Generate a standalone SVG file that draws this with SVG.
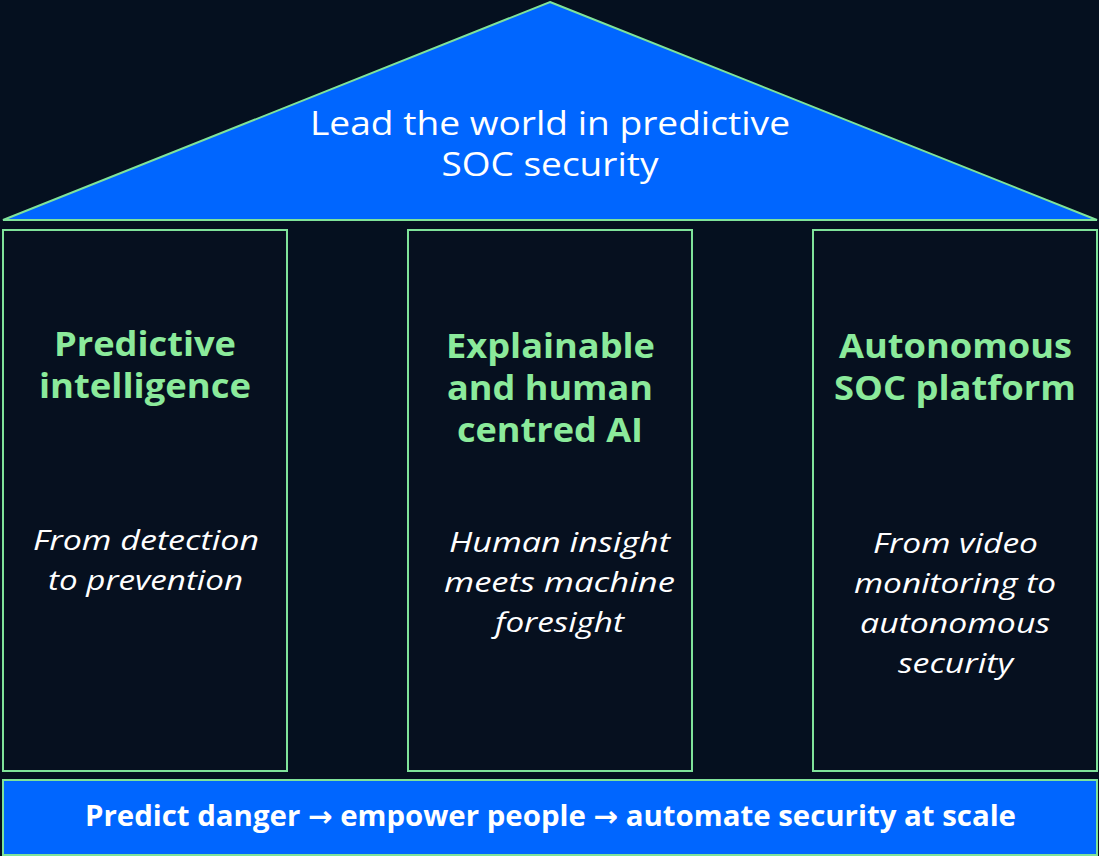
<svg xmlns="http://www.w3.org/2000/svg" width="1099" height="856" viewBox="0 0 1099 856">
<style>
.stroke{stroke:#7FE39A;stroke-width:2}
.blue{fill:#0066FF}
.pillar{fill:#06101F}
.t{font-family:"Open Sans","DejaVu Sans",sans-serif;text-anchor:middle}
.roof{fill:#FFFFFF;font-size:32px}
.head{fill:#8BEA9B;font-size:34px;font-weight:700}
.sub{fill:#FFFFFF;font-size:28px;font-style:italic}
.base{fill:#FFFFFF;font-size:28px;font-weight:700}
</style>
<rect width="1099" height="856" fill="#05101F"/>
<g id="roof">
<polygon class="blue stroke" points="550,2 1097,220 3,220"/>
<text class="t roof" x="550" y="135" textLength="480" lengthAdjust="spacingAndGlyphs">Lead the world in predictive</text>
<text class="t roof" x="550" y="176" textLength="217" lengthAdjust="spacingAndGlyphs">SOC security</text>
</g>
<g id="pillar-left">
<rect class="pillar stroke" x="3" y="230" width="284" height="541"/>
<text class="t head" x="145" y="356" textLength="182" lengthAdjust="spacingAndGlyphs">Predictive</text>
<text class="t head" x="145" y="398" textLength="212" lengthAdjust="spacingAndGlyphs">intelligence</text>
<text class="t sub" x="146" y="550" textLength="226" lengthAdjust="spacingAndGlyphs">From detection</text>
<text class="t sub" x="145.5" y="590" textLength="195" lengthAdjust="spacingAndGlyphs">to prevention</text>
</g>
<g id="pillar-middle">
<rect class="pillar stroke" x="408" y="230" width="284" height="541"/>
<text class="t head" x="550.5" y="358" textLength="209" lengthAdjust="spacingAndGlyphs">Explainable</text>
<text class="t head" x="550" y="400" textLength="206" lengthAdjust="spacingAndGlyphs">and human</text>
<text class="t head" x="550" y="442" textLength="186" lengthAdjust="spacingAndGlyphs">centred AI</text>
<text class="t sub" x="559.5" y="552" textLength="221" lengthAdjust="spacingAndGlyphs">Human insight</text>
<text class="t sub" x="559.5" y="592" textLength="231" lengthAdjust="spacingAndGlyphs">meets machine</text>
<text class="t sub" x="559.5" y="632" textLength="129" lengthAdjust="spacingAndGlyphs">foresight</text>
</g>
<g id="pillar-right">
<rect class="pillar stroke" x="813" y="230" width="284" height="541"/>
<text class="t head" x="955.5" y="358" textLength="233" lengthAdjust="spacingAndGlyphs">Autonomous</text>
<text class="t head" x="955" y="400" textLength="242" lengthAdjust="spacingAndGlyphs">SOC platform</text>
<text class="t sub" x="955.5" y="553" textLength="165" lengthAdjust="spacingAndGlyphs">From video</text>
<text class="t sub" x="955" y="593" textLength="202" lengthAdjust="spacingAndGlyphs">monitoring to</text>
<text class="t sub" x="955" y="633" textLength="190" lengthAdjust="spacingAndGlyphs">autonomous</text>
<text class="t sub" x="955.5" y="673" textLength="115" lengthAdjust="spacingAndGlyphs">security</text>
</g>
<g id="foundation">
<rect class="blue stroke" x="3" y="780" width="1094" height="75"/>
<text class="t base" x="550.5" y="826" textLength="931" lengthAdjust="spacingAndGlyphs">Predict danger → empower people → automate security at scale</text>
</g>
<g id="connectors"/>
</svg>
